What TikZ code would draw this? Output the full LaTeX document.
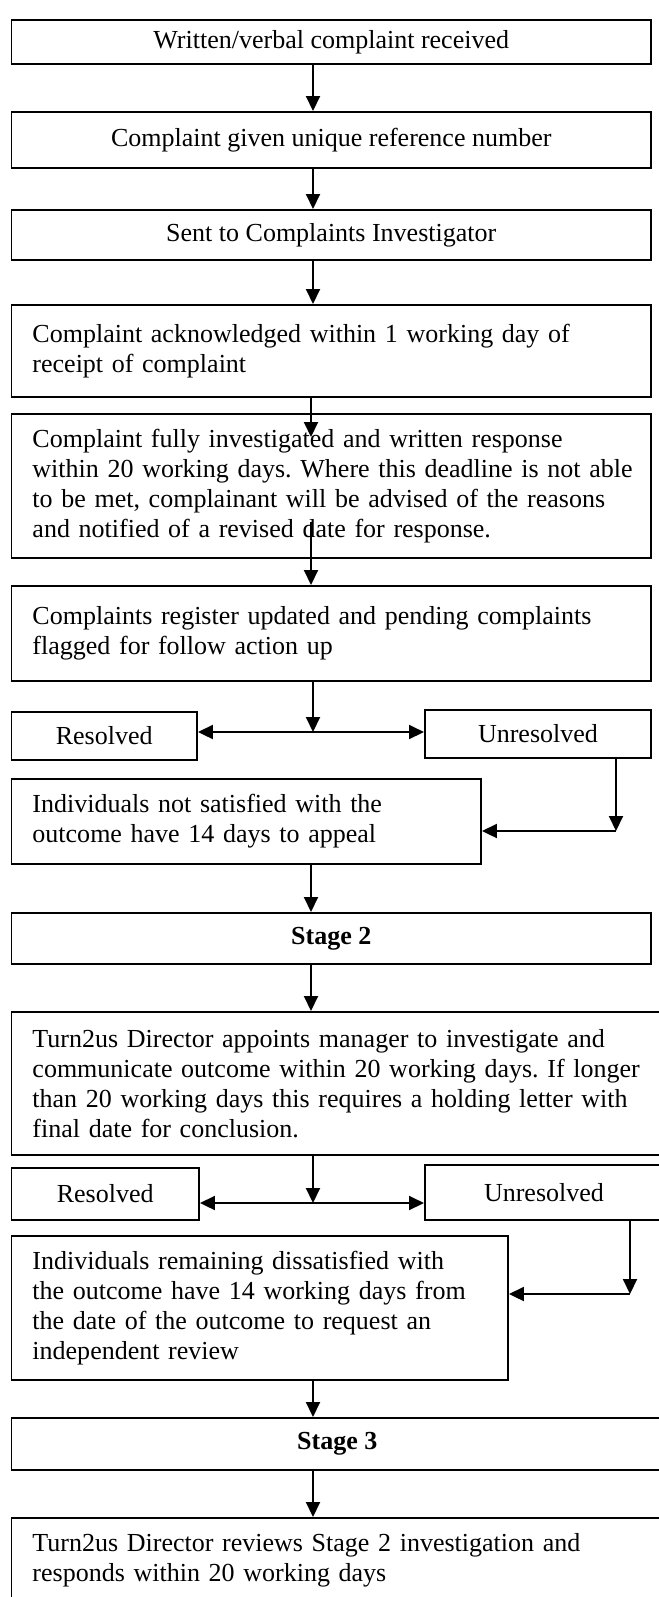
\documentclass[tikz,border=0pt]{standalone}
\usepackage{fontspec}
\setmainfont{Liberation Serif}
\usepackage{tikz}
\usetikzlibrary{arrows.meta, positioning}

\newcommand{\pu}{0.4615pt}

\begin{document}
\frenchspacing
\begin{tikzpicture}[x=0.4615pt, y=-0.4615pt,
		box/.style 2 args={draw, line width=0.9pt, anchor=north west, inner xsep=21*\pu, inner ysep=0pt,
			minimum width=#1*\pu, minimum height=#2*\pu, font=\fontsize{12pt}{13.9pt}\selectfont},
		tbox/.style 2 args={box={#1}{#2}, align=left, text width=(#1-42)*\pu},
		arr/.style={line width=0.9pt, -{Triangle[length=15*\pu, width=14*\pu]}}]
	\useasboundingbox (0,0) rectangle (659,1597);
	
	% Stufe 1
	\node[box={639.5}{44}] (recv) at (10.5,19) {Written/verbal complaint received};
	\node[box={639.5}{56}] (refno) at (10.5,111) {Complaint given unique reference number};
	\node[box={639.5}{50}] (sent) at (10.5,209) {Sent to Complaints Investigator};
	\node[tbox={639.5}{92}] (ack) at (10.5,304) {Complaint acknowledged within 1 working day of\\receipt of complaint};
	\node[tbox={639.5}{144}] (invest) at (10.5,413) {Complaint fully investigated and written response\\\mbox{within 20 working days. Where this deadline is not able}\\to be met, complainant will be advised of the reasons\\and notified of a revised date for response.};
	\node[tbox={639.5}{95}] (register) at (10.5,585) {Complaints register updated and pending complaints\\flagged for follow action up};
	\node[box={185.5}{48}] (res1) at (10.5,711) {Resolved};
	\node[box={226}{48}] (unres1) at (424,709) {Unresolved};
	\node[tbox={469.5}{85}] (appeal1) at (10.5,778) {Individuals not satisfied with the\\outcome have 14 days to appeal};
	
	% Stufe 2
	\node[box={639.5}{51}] (stage2) at (10.5,912) {\textbf{Stage 2}};
	\node[tbox={651.5}{143}] (director) at (10.5,1011) {Turn2us Director appoints manager to investigate and\\\mbox{communicate outcome within 20 working days. If longer}\\than 20 working days this requires a holding letter with\\final date for conclusion.};
	\node[box={187.5}{52}] (res2) at (10.5,1167) {Resolved};
	\node[box={238}{55}] (unres2) at (424,1164) {Unresolved};
	\node[tbox={496.5}{144}] (appeal2) at (10.5,1235) {Individuals remaining dissatisfied with\\the outcome have 14 working days from\\the date of the outcome to request an\\independent review};
	
	% Stufe 3
	\node[box={651.5}{52}] (stage3) at (10.5,1417) {\textbf{Stage 3}};
	\node[tbox={651.5}{85}] (review) at (10.5,1517) {Turn2us Director reviews Stage 2 investigation and\\responds within 20 working days};
	
	% Hilfspunkte
	\coordinate (mid) at (313,0);
	\coordinate (tip5) at (311,437);
	\coordinate (tail5) at (311,522);
	\coordinate (split1) at (313,732);
	\coordinate (turn1) at (616,831);
	\coordinate (split2) at (313,1203);
	\coordinate (turn2) at (630,1294);
	
	% Pfeile
	\draw[arr] (recv.south -| mid) -- (refno.north -| mid);
	\draw[arr] (refno.south -| mid) -- (sent.north -| mid);
	\draw[arr] (sent.south -| mid) -- (ack.north -| mid);
	\draw[arr] (ack.south -| tip5) -- (tip5);
	\draw[arr] (tail5) -- (register.north -| tail5);
	\draw[arr] (register.south -| split1) -- (split1);
	\draw[arr] (split1) -- (split1 -| res1.east);
	\draw[arr] (split1) -- (split1 -| unres1.west);
	\draw[arr] (unres1.south -| turn1) -- (turn1);
	\draw[arr] (turn1) -- (turn1 -| appeal1.east);
	\draw[arr] (appeal1.south -| tail5) -- (stage2.north -| tail5);
	\draw[arr] (stage2.south -| tail5) -- (director.north -| tail5);
	\draw[arr] (director.south -| split2) -- (split2);
	\draw[arr] (split2) -- (split2 -| res2.east);
	\draw[arr] (split2) -- (split2 -| unres2.west);
	\draw[arr] (unres2.south -| turn2) -- (turn2);
	\draw[arr] (turn2) -- (turn2 -| appeal2.east);
	\draw[arr] (appeal2.south -| mid) -- (stage3.north -| mid);
	\draw[arr] (stage3.south -| mid) -- (review.north -| mid);
\end{tikzpicture}
\end{document}
